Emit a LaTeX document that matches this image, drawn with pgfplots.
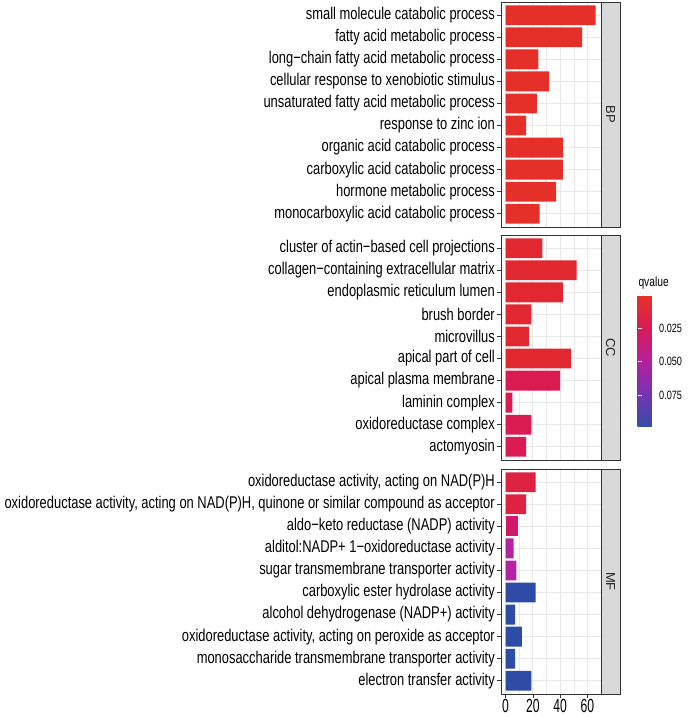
\documentclass[border=0pt]{standalone}
\usepackage{pgfplots}
\pgfplotsset{compat=1.18}
\usepackage{fontspec}
\setmainfont{Liberation Sans}[FakeStretch=0.76]
\newfontfamily\tickfont{Liberation Sans}[FakeStretch=0.64]
\newfontfamily\plainfont{Liberation Sans}
\definecolor{grey20}{HTML}{333333}
\definecolor{gridc}{HTML}{E8E8E8}
\definecolor{stripc}{HTML}{D9D9D9}
\definecolor{cRed}{RGB}{228,48,40}
\definecolor{cRed2}{RGB}{225,40,48}
\definecolor{cCrim}{RGB}{217,27,82}
\definecolor{cMF1}{RGB}{222,35,66}
\definecolor{cMF3}{RGB}{208,25,105}
\definecolor{cMag}{RGB}{179,36,162}
\definecolor{cBlue}{RGB}{46,75,165}
\pgfplotsset{
  colormap={qcol}{rgb255=(229,50,40) rgb255=(216,27,85) rgb255=(180,32,155) rgb255=(120,50,180) rgb255=(52,78,168)},
  panel/.style={
    scale only axis, width=100pt, height=225pt,
    xmin=-3.33, xmax=69.9, ymin=0.4, ymax=10.6, y dir=reverse,
    xtick={0,20,40,60}, minor xtick={10,30,50}, ytick={1,...,10},
    grid=both,
    major grid style={draw=gridc, line width=0.8pt},
    minor grid style={draw=gridc, line width=0.4pt},
    axis line style={draw=grey20, line width=0.6pt},
    every tick/.style={draw=grey20, line width=0.6pt},
    tick align=outside, major tick length=4pt, minor tick length=0pt,
    tick pos=left,
    xbar, bar width=0.9, bar shift=0pt,
    yticklabel style={font=\fontsize{17}{18}\selectfont, inner sep=2pt, text=black},
    xticklabel style={font=\tickfont\fontsize{19}{20}\selectfont, inner sep=1pt, text=black},
  }
}
\begin{document}
\begin{tikzpicture}
\useasboundingbox (0,0) rectangle (690pt,-717pt);
% BP
\begin{axis}[panel, name=bp, at={(501pt,-2pt)}, anchor=north west,
  xticklabels={}, major x tick style={draw=none},
  yticklabels={small molecule catabolic process, fatty acid metabolic process, long−chain fatty acid metabolic process, cellular response to xenobiotic stimulus, unsaturated fatty acid metabolic process, response to zinc ion, organic acid catabolic process, carboxylic acid catabolic process, hormone metabolic process, monocarboxylic acid catabolic process}]
\addplot[fill=cRed, draw=none] coordinates {(66,1) (56,2) (24,3) (32,4) (23,5) (15,6) (42,7) (42,8) (37,9) (25,10)};
\end{axis}
% CC
\begin{axis}[panel, name=cc, at={(501pt,-235pt)}, anchor=north west,
  xticklabels={}, major x tick style={draw=none},
  yticklabels={cluster of actin−based cell projections, collagen−containing extracellular matrix, endoplasmic reticulum lumen, brush border, microvillus, apical part of cell, apical plasma membrane, laminin complex, oxidoreductase complex, actomyosin},
  colorbar, colormap name=qcol, point meta min=0, point meta max=0.0985,
  colorbar style={scale only axis, width=19.5pt, height=131.5pt,
    at={(parent axis.north east)}, anchor=north west, xshift=28pt, yshift=-60pt,
    y dir=reverse, ytick={0.025,0.05,0.075}, yticklabels={0.025,0.050,0.075},
    scaled y ticks=false,
    yticklabel pos=right, ytick pos=both,
    yticklabel style={font=\fontsize{12}{13}\selectfont, text=black, inner sep=2pt},
    major tick length=4pt, tick align=inside,
    every tick/.style={draw=white, line width=0.7pt},
    axis line style={draw=none}}]
\addplot[fill=cRed2, draw=none] coordinates {(27,1) (52,2) (42,3) (19,4) (17,5) (48,6)};
\addplot[fill=cCrim, draw=none] coordinates {(40,7) (5,8) (19,9) (15,10)};
\end{axis}
% MF
\begin{axis}[panel, name=mf, at={(501pt,-469pt)}, anchor=north west,
  xticklabels={0,20,40,60},
  yticklabels={{oxidoreductase activity, acting on NAD(P)H}, {oxidoreductase activity, acting on NAD(P)H, quinone or similar compound as acceptor}, aldo−keto reductase (NADP) activity, alditol:NADP+ 1−oxidoreductase activity, sugar transmembrane transporter activity, carboxylic ester hydrolase activity, alcohol dehydrogenase (NADP+) activity, {oxidoreductase activity, acting on peroxide as acceptor}, monosaccharide transmembrane transporter activity, electron transfer activity}]
\addplot[fill=cMF1, draw=none] coordinates {(22,1) (15,2)};
\addplot[fill=cMF3, draw=none] coordinates {(9,3)};
\addplot[fill=cMag, draw=none] coordinates {(6,4) (8,5)};
\addplot[fill=cBlue, draw=none] coordinates {(22,6) (7,7) (12,8) (7,9) (19,10)};
\end{axis}
% strips
\foreach \ax/\lab in {bp/BP, cc/CC, mf/MF}{
  \draw[fill=stripc, draw=grey20, line width=0.6pt] (\ax.north east) rectangle ([xshift=19pt]\ax.south east);
  \node[rotate=-90, font=\plainfont\fontsize{13}{14}\selectfont, text=black!85] at ([xshift=9.5pt]\ax.east) {\lab};
}
\node[anchor=base west, font=\fontsize{13.5}{14}\selectfont] at (635pt,-286pt) {qvalue};
\end{tikzpicture}
\end{document}
